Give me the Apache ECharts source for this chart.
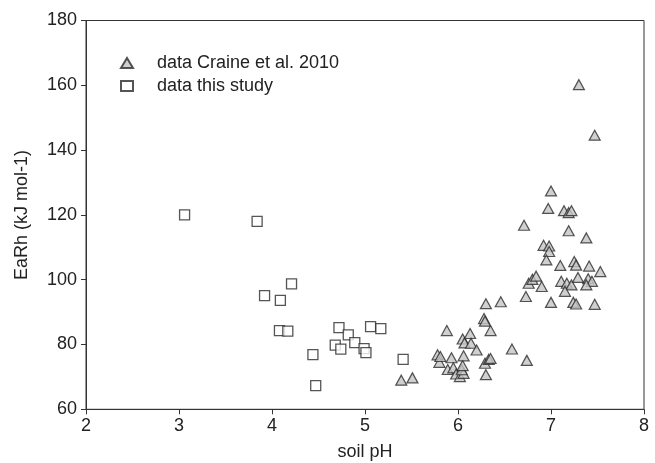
<!DOCTYPE html>
<html>
<head>
<meta charset="utf-8">
<script src="https://cdn.jsdelivr.net/npm/echarts@6/dist/echarts.min.js"></script>
<style>html,body{margin:0;padding:0;background:#fff;}#c{width:655px;height:463px;}</style>
</head>
<body>
<div id="c"></div>
<script>
var seriesNames = ['data Craine et al. 2010', 'data this study'];
var xTicks = [2, 3, 4, 5, 6, 7, 8];
var yTicks = [60, 80, 100, 120, 140, 160, 180];

var craine = [
  [5.39, 69.0], [5.51, 69.7], [5.78, 76.8], [5.80, 74.5], [5.81, 76.3], [5.88, 84.3],
  [5.89, 72.3], [5.93, 75.9], [5.95, 72.8], [5.98, 70.9], [6.02, 70.1], [6.06, 71.1],
  [6.04, 72.2], [6.05, 73.5], [6.06, 76.5], [6.05, 81.7], [6.07, 80.5], [6.13, 83.4],
  [6.14, 80.4], [6.20, 78.3], [6.28, 88.0], [6.29, 87.2], [6.29, 74.2], [6.33, 75.4],
  [6.35, 75.7], [6.30, 70.7], [6.35, 84.3], [6.30, 92.6], [6.46, 93.2], [6.58, 78.6],
  [6.73, 94.8], [6.76, 98.9], [6.80, 100.1], [6.84, 101.1], [6.71, 116.8], [6.92, 110.6],
  [6.98, 110.4], [6.98, 108.7], [6.95, 106.1], [6.97, 122.0], [7.00, 127.4], [7.14, 121.3],
  [7.19, 120.7], [7.22, 121.3], [7.19, 115.1], [7.38, 112.9], [7.10, 104.4], [7.25, 105.6],
  [7.27, 104.5], [7.41, 104.2], [7.53, 102.5], [6.90, 97.9], [7.11, 99.5], [7.17, 98.9],
  [7.22, 98.4], [7.29, 100.7], [7.40, 100.3], [7.44, 99.5], [7.38, 98.4], [7.15, 96.4],
  [7.00, 93.0], [7.24, 93.0], [7.27, 92.5], [7.47, 92.4], [6.74, 75.1], [7.30, 160.2],
  [7.47, 144.6]
];

var thisStudy = [
  [3.06, 120.0], [3.84, 118.0], [3.92, 95.1], [4.09, 93.6], [4.21, 98.7], [4.08, 84.3],
  [4.17, 84.1], [4.44, 76.9], [4.47, 67.3], [4.68, 79.8], [4.72, 85.2], [4.74, 78.6],
  [4.82, 83.0], [4.89, 80.6], [4.99, 78.7], [5.01, 77.5], [5.06, 85.5], [5.17, 84.9],
  [5.41, 75.4]
];

var chart = echarts.init(document.getElementById('c'), null, {renderer: 'canvas'});
var FONT = 'Liberation Sans, Arial, sans-serif';
var FS = 18;
chart.setOption({
  animation: false,
  backgroundColor: '#fff',
  grid: {left: 86, right: 11, top: 20.5, bottom: 53.7, containLabel: false, outerBoundsMode: 'none',
         show: true, borderColor: '#333', borderWidth: 1, backgroundColor: 'transparent'},
  legend: {
    data: seriesNames,
    orient: 'vertical',
    left: 115,
    top: 49,
    itemWidth: 12,
    itemHeight: 10,
    itemGap: 5,
    textStyle: {fontFamily: FONT, fontSize: FS, color: '#222', padding: [0, 0, 0, 19]}
  },
  xAxis: {
    type: 'value', min: xTicks[0], max: xTicks[xTicks.length - 1], interval: 1,
    name: 'soil pH', nameLocation: 'middle', nameGap: 34,
    nameTextStyle: {fontFamily: FONT, fontSize: FS, color: '#222'},
    axisLine: {lineStyle: {color: '#333', width: 1}},
    axisTick: {length: 5, lineStyle: {color: '#333'}},
    axisLabel: {fontFamily: FONT, fontSize: FS, color: '#222', margin: 8},
    splitLine: {show: false}
  },
  yAxis: {
    type: 'value', min: yTicks[0], max: yTicks[yTicks.length - 1], interval: 20,
    name: 'EaRh (kJ mol-1)', nameLocation: 'middle', nameGap: 55, nameRotate: 90,
    nameTextStyle: {fontFamily: FONT, fontSize: FS, color: '#222'},
    axisLine: {show: true, lineStyle: {color: '#333', width: 1}},
    axisTick: {show: true, length: 5, lineStyle: {color: '#333'}},
    axisLabel: {fontFamily: FONT, fontSize: FS, color: '#222', margin: 9},
    splitLine: {show: false}
  },
  series: [
    {
      name: seriesNames[0], type: 'scatter', data: craine,
      symbol: 'triangle', symbolSize: [11, 10], symbolKeepAspect: true,
      itemStyle: {color: '#c4c4c4', borderColor: '#2a2a2a', borderWidth: 1.2}
    },
    {
      name: seriesNames[1], type: 'scatter', data: thisStudy,
      symbol: 'rect', symbolSize: 10, symbolKeepAspect: true,
      itemStyle: {color: '#ffffff', borderColor: '#2a2a2a', borderWidth: 1.3}
    }
  ]
});
</script>
</body>
</html>
